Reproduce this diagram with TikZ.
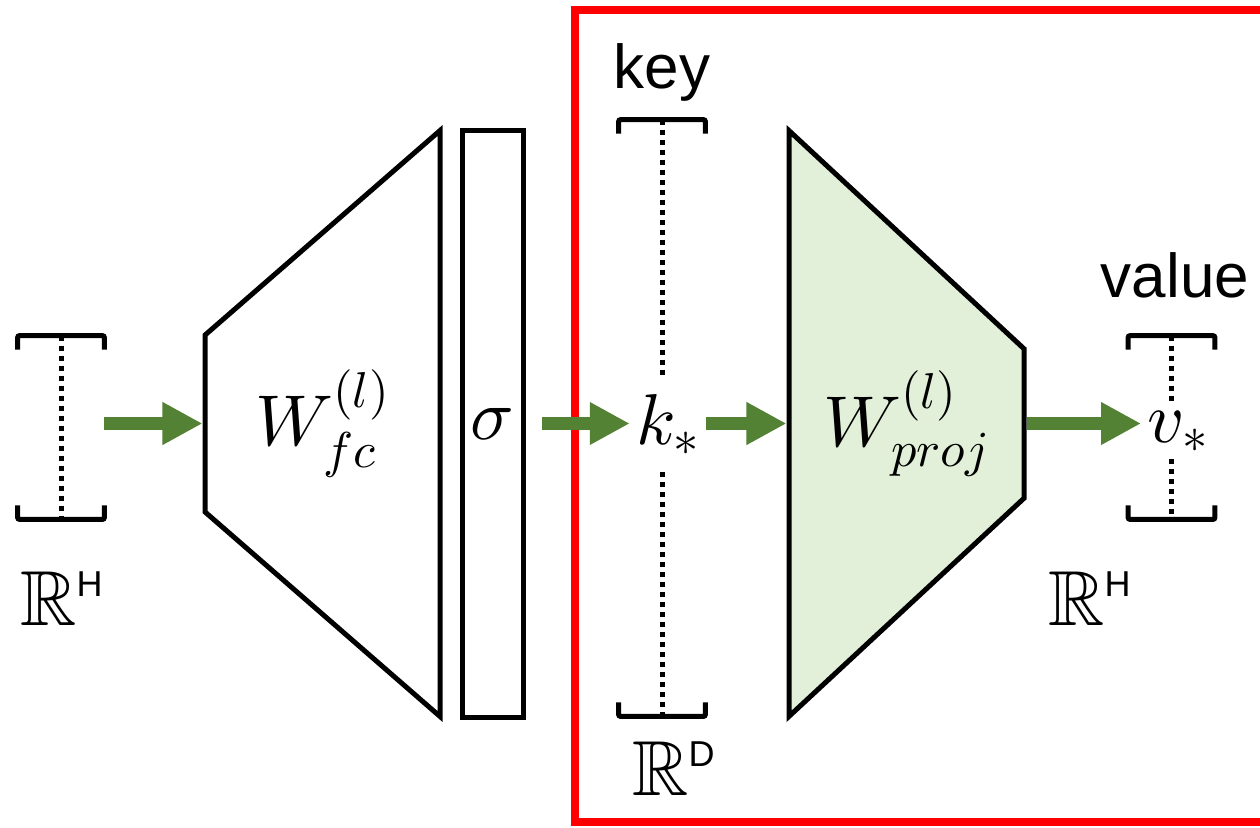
\documentclass[tikz,border=0pt]{standalone}
\usepackage{amssymb}
\usepackage{fontspec}
\setsansfont{Liberation Sans}
\usetikzlibrary{arrows.meta, shapes.geometric}

% math letters and blackboard letters at any size
\DeclareFontShape{OML}{cmm}{m}{it}{<-> cmmi10}{}
\DeclareFontShape{OMS}{cmsy}{m}{n}{<-> cmsy10}{}
\DeclareFontShape{OT1}{cmr}{m}{n}{<-> cmr10}{}
\DeclareFontFamily{U}{msb}{}
\DeclareFontShape{U}{msb}{m}{n}{<-> msbm10}{}

\definecolor{arrowgreen}{HTML}{548235}
\definecolor{projfill}{HTML}{E2F0D9}

\begin{document}
\begin{tikzpicture}[
x=0.5pt, y=-0.5pt,
layer/.style={draw, line width=2.5pt, trapezium, trapezium stretches=true,
  trapezium left angle=47.4, trapezium right angle=47.4,
  minimum width=293.5pt, minimum height=117.5pt, inner sep=0pt, font=\fontsize{36}{42}\selectfont},
vec/.style={rectangle, minimum width=43pt, inner sep=0pt},
sym/.style={inner sep=3pt, font=\fontsize{36}{42}\selectfont},
brk/.style={line width=2.5pt, rounded corners=1pt},
dots/.style={line width=2.5pt, dash pattern=on 2.5pt off 2.5pt},
arrow/.style={-{Triangle[length=20pt, width=20pt]}, line width=6.5pt, draw=arrowgreen},
lbl/.style={font=\sffamily\fontsize{31}{36}\selectfont},
space/.style={font=\fontsize{39}{44}\selectfont}
]
\useasboundingbox (0,0) rectangle (1260,827);

% the part that stores key -> value
\draw[red, line width=4pt] (575,10) rectangle (1290,822);

% input vector
\node[vec, minimum height=91.5pt] (inH) at (61,427.5) {};
\node[space, anchor=base] (inHsp) at (62,625) {$\mathbb{R}^{\mbox{\sffamily\fontsize{18}{20}\selectfont H}}$};

% first layer and nonlinearity
\node[layer, shape border rotate=90] (wfc) at (322.5,423.5) {$W_{fc}^{(l)}$};
\node[draw, rectangle, line width=2.5pt, minimum width=30.5pt, minimum height=293.5pt, inner sep=0pt,
  font=\fontsize{36}{42}\selectfont] (sig) at (492.5,423.5) {$\sigma$};

% key vector
\node[vec, minimum height=298pt] (keyv) at (662,418) {};
\node[lbl, anchor=base] (keylbl) at (662,88) {key};
\node[sym, inner ysep=8pt] (kstar) at (668,425) {$k_*$};
\node[space, anchor=base] (keysp) at (674,795) {$\mathbb{R}^{\mbox{\sffamily\fontsize{18}{20}\selectfont D}}$};

% projection layer
\node[layer, shape border rotate=270, fill=projfill] (wproj) at (906.5,423.5) {$W_{proj}^{(l)}$};

% value vector
\node[vec, minimum height=91.5pt] (valv) at (1171.5,427.5) {};
\node[lbl, anchor=base] (vallbl) at (1175,297) {value};
\node[sym] (vstar) at (1178,432) {$v_*$};
\node[space, anchor=base] (valsp) at (1090,625) {$\mathbb{R}^{\mbox{\sffamily\fontsize{18}{20}\selectfont H}}$};

% brackets
\foreach \v in {inH, keyv, valv} {
  \draw[brk] ([yshift=-7pt]\v.north west) -- (\v.north west) -- (\v.north east) -- ([yshift=-7pt]\v.north east);
  \draw[brk] ([yshift=7pt]\v.south west) -- (\v.south west) -- (\v.south east) -- ([yshift=7pt]\v.south east);
}
\draw[dots] (inH.north) -- (inH.south);
\draw[dots] (keyv.north) -- (keyv.north |- kstar.north);
\draw[dots] (keyv.south |- kstar.south) -- (keyv.south);
\draw[dots] (valv.north) -- (valv.north |- vstar.north);
\draw[dots] (valv.south |- vstar.south) -- (valv.south);

% data flow
\draw[arrow] (wfc.west -| inH.east) -- (wfc.west);
\draw[arrow] ([xshift=8pt]sig.east) -- (sig.east -| kstar.west);
\draw[arrow] (kstar.east |- wproj.west) -- (wproj.west);
\draw[arrow] (wproj.east) -- (wproj.east -| vstar.west);

\end{tikzpicture}
\end{document}
